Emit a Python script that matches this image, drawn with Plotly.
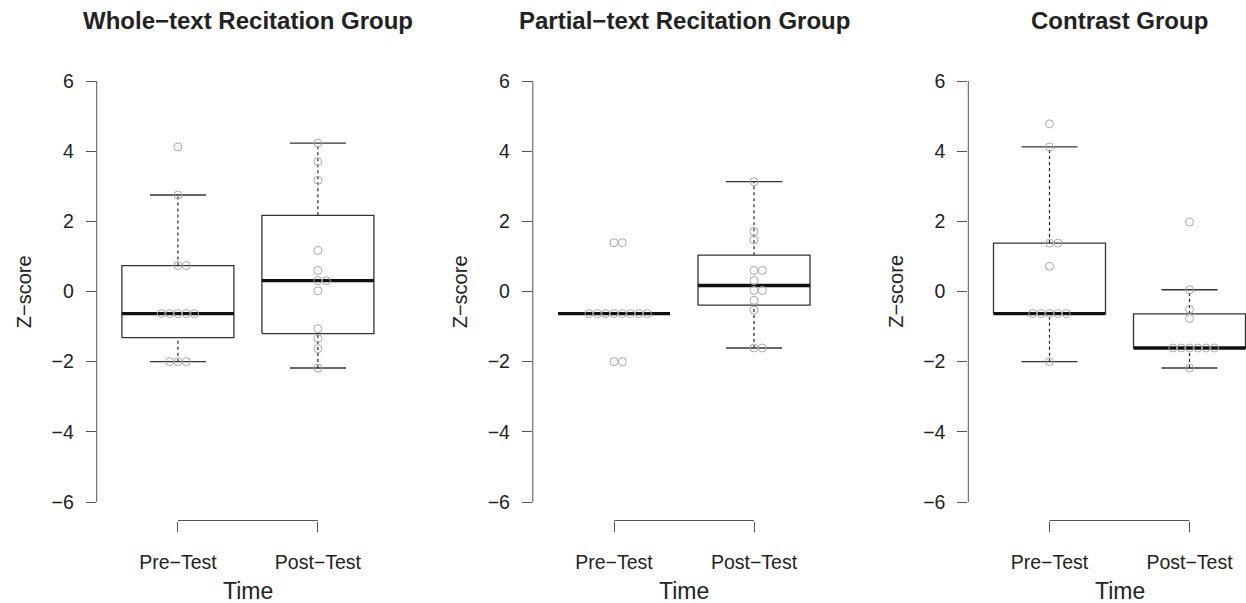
import plotly.graph_objects as go
import numpy as np

# ---- data (Z-scores) ----
panel_titles = ["Whole\u2212text Recitation Group", "Partial\u2212text Recitation Group", "Contrast Group"]
time_labels = ["Pre\u2212Test", "Post\u2212Test"]

whole_pre = [4.12, 2.75, 0.74, 0.74, -0.63, -0.63, -0.63, -0.63, -0.63, -2.00, -2.00, -2.00]
whole_post = [4.23, 3.70, 3.17, 1.17, 0.60, 0.31, 0.31, 0.02, -1.06, -1.34, -1.63, -2.18]
partial_pre = [1.39, 1.39, -0.63, -0.63, -0.63, -0.63, -0.63, -0.63, -0.63, -0.63, -2.00, -2.00]
partial_post = [3.13, 1.71, 1.47, 0.60, 0.60, 0.31, 0.03, 0.03, -0.25, -0.53, -1.61, -1.61]
contrast_pre = [4.78, 4.12, 1.38, 1.38, 0.72, -0.63, -0.63, -0.63, -0.63, -0.63, -2.00]
contrast_post = [1.98, 0.05, -0.51, -0.77, -1.61, -1.61, -1.61, -1.61, -1.61, -1.61, -2.18]

y_ticks = [-6, -4, -2, 0, 2, 4, 6]

groups = [(whole_pre, whole_post), (partial_pre, partial_post), (contrast_pre, contrast_post)]

W, H = 1246, 603
FONT = "Liberation Sans, Arial, sans-serif"
TXT = "#222222"
AX = "#555555"
PT = "#a9a9a9"


def fivenum(v):
    x = np.sort(np.asarray(v, dtype=float))
    n = len(x)
    n4 = np.floor((n + 3) / 2) / 2
    d = np.array([1, n4, (n + 1) / 2, n + 1 - n4, n])
    return 0.5 * (x[np.floor(d).astype(int) - 1] + x[np.ceil(d).astype(int) - 1])


def box_stats(v):
    mn, q1, med, q3, mx = fivenum(v)
    iqr = q3 - q1
    arr = np.asarray(v)
    uw = arr[arr <= q3 + 1.5 * iqr].max()
    lw = arr[arr >= q1 - 1.5 * iqr].min()
    return q1, med, q3, lw, uw


def stack_offsets(v, step=0.0595):
    arr = np.round(np.asarray(v, dtype=float), 3)
    offs = np.zeros(len(arr))
    for val in np.unique(arr):
        idx = np.where(arr == val)[0]
        n = len(idx)
        for k, i in enumerate(idx):
            offs[i] = (k - (n - 1) // 2) * step
    return offs


# pixel layout of plot regions
px_left = [96.7, 532.8, 968.3]
unit_x = 140.0
y_top_px, y_bot_px = 64.0, 520.5
y6_px, ym6_px = 81.0, 502.0
unit_y = (ym6_px - y6_px) / 12.0
y_range = [-6 - (y_bot_px - ym6_px) / unit_y, 6 + (y6_px - y_top_px) / unit_y]

fig = go.Figure()
layout = dict(width=W, height=H, margin=dict(l=0, r=0, t=0, b=0),
              paper_bgcolor="white", plot_bgcolor="white", showlegend=False,
              font=dict(family=FONT, color=TXT))
shapes, annotations = [], []

for i, (pre, post) in enumerate(groups):
    sfx = "" if i == 0 else str(i + 1)
    xr, yr = "x" + sfx, "y" + sfx
    left = px_left[i]
    right = min(left + 2.16 * unit_x, W)
    x_range = [0.42, 0.42 + (right - left) / unit_x]
    layout["xaxis" + sfx] = dict(
        domain=[left / W, right / W], range=x_range, anchor=yr,
        tickvals=[1, 2], ticktext=time_labels, ticks="outside", ticklen=10,
        tickcolor=AX, tickwidth=1, showline=False, showgrid=False, zeroline=False,
        tickfont=dict(size=19.5, family=FONT, color=TXT), ticklabelstandoff=14)
    layout["yaxis" + sfx] = dict(
        domain=[1 - y_bot_px / H, 1 - y_top_px / H], range=y_range, anchor=xr,
        tickvals=y_ticks, ticktext=[str(t).replace("-", "\u2212") for t in y_ticks],
        ticks="outside", ticklen=10, tickcolor=AX, tickwidth=1,
        showline=False, showgrid=False, zeroline=False,
        tickfont=dict(size=19.5, family=FONT, color=TXT), ticklabelstandoff=8)
    # y axis line spanning tick range, x bracket spanning groups
    shapes.append(dict(type="line", xref=xr + " domain", yref=yr, x0=0, x1=0,
                       y0=y_ticks[0], y1=y_ticks[-1], line=dict(color=AX, width=1)))
    shapes.append(dict(type="line", xref=xr, yref=yr + " domain", x0=1, x1=2,
                       y0=0, y1=0, line=dict(color=AX, width=1)))

    for p, vals in zip([1, 2], [pre, post]):
        q1, med, q3, lw, uw = box_stats(vals)
        hw = 0.4
        # whiskers (dashed)
        fig.add_trace(go.Scatter(x=[p, p], y=[q3, uw], mode="lines", xaxis=xr, yaxis=yr,
                                 line=dict(color="#222", width=1.2, dash="3px,3px"), hoverinfo="skip"))
        fig.add_trace(go.Scatter(x=[p, p], y=[lw, q1], mode="lines", xaxis=xr, yaxis=yr,
                                 line=dict(color="#222", width=1.2, dash="3px,3px"), hoverinfo="skip"))
        # caps
        for w in (uw, lw):
            fig.add_trace(go.Scatter(x=[p - hw / 2, p + hw / 2], y=[w, w], mode="lines",
                                     xaxis=xr, yaxis=yr, line=dict(color="#333", width=1.3),
                                     hoverinfo="skip"))
        # box
        fig.add_trace(go.Scatter(x=[p - hw, p + hw, p + hw, p - hw, p - hw],
                                 y=[q1, q1, q3, q3, q1], mode="lines", xaxis=xr, yaxis=yr,
                                 line=dict(color="#333", width=1.3), cliponaxis=True,
                                 hoverinfo="skip"))
        # median
        fig.add_trace(go.Scatter(x=[p - hw, p + hw], y=[med, med], mode="lines",
                                 xaxis=xr, yaxis=yr, line=dict(color="#111", width=3.4),
                                 hoverinfo="skip"))
        # points (stacked strip chart)
        offs = stack_offsets(vals)
        fig.add_trace(go.Scatter(x=p + offs, y=vals, mode="markers", xaxis=xr, yaxis=yr,
                                 marker=dict(symbol="circle-open", size=8,
                                             color=PT, line=dict(color=PT, width=1)),
                                 hoverinfo="y"))

    # titles and axis labels
    annotations.append(dict(text="<b>" + panel_titles[i] + "</b>", xref=xr, yref="paper",
                            x=1.5, y=1 - 20.5 / H, xanchor="center", yanchor="middle",
                            showarrow=False, font=dict(size=24, family=FONT, color=TXT)))
    annotations.append(dict(text="Time", xref=xr, yref="paper", x=1.5, y=1 - 591 / H,
                            xanchor="center", yanchor="middle", showarrow=False,
                            font=dict(size=23, family=FONT, color=TXT)))
    annotations.append(dict(text="Z\u2212score", xref="paper", yref=yr,
                            x=(left - 73) / W, y=0, xanchor="center", yanchor="middle",
                            textangle=-90, showarrow=False,
                            font=dict(size=20, family=FONT, color=TXT)))

layout["shapes"] = shapes
layout["annotations"] = annotations
fig.update_layout(**layout)
fig.write_html("out.html", config={"displayModeBar": False},
               post_script="document.body.style.margin='0px';document.body.style.overflow='hidden';")
